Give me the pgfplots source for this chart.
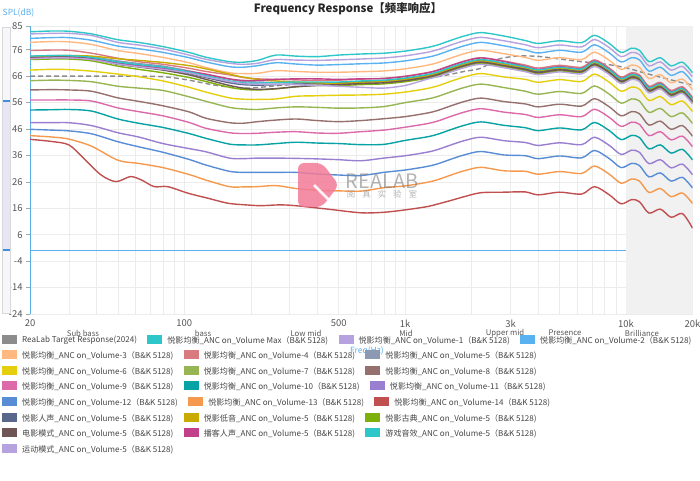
\documentclass[border=0pt]{standalone}
\usepackage{pgfplots}
\pgfplotsset{compat=1.18}
\usepackage{fontspec}
\setmainfont{Noto Sans CJK SC}
\definecolor{cT}{HTML}{8C8C8C}
\definecolor{c0}{HTML}{2EC7C9}
\definecolor{c1}{HTML}{B6A2DE}
\definecolor{c2}{HTML}{5AB1EF}
\definecolor{c3}{HTML}{FFB980}
\definecolor{c4}{HTML}{D87A80}
\definecolor{c5}{HTML}{8D98B3}
\definecolor{c6}{HTML}{E5CF0D}
\definecolor{c7}{HTML}{97B552}
\definecolor{c8}{HTML}{95706D}
\definecolor{c9}{HTML}{DC69AA}
\definecolor{c10}{HTML}{07A2A4}
\definecolor{c11}{HTML}{9A7FD1}
\definecolor{c12}{HTML}{588DD5}
\definecolor{c13}{HTML}{F5994E}
\definecolor{c14}{HTML}{C05050}
\definecolor{c15}{HTML}{59678C}
\definecolor{c16}{HTML}{C9AB00}
\definecolor{c17}{HTML}{7EB00A}
\definecolor{c18}{HTML}{6F5553}
\definecolor{c19}{HTML}{C14089}
\definecolor{axisblue}{HTML}{5AAEEA}
\definecolor{gridc}{HTML}{ECECEC}
\definecolor{bandc}{HTML}{F1F1F1}
\definecolor{labc}{HTML}{555555}
\definecolor{legtext}{HTML}{444444}
\definecolor{logopink}{HTML}{F27A98}
\definecolor{slbg}{HTML}{F7F7FB}
\definecolor{slsel}{HTML}{E8E5F5}
\definecolor{slhandle}{HTML}{3D8EE0}
\newcommand{\lf}{\fontsize{8.1}{9}\selectfont}
\newcommand{\sw}[1]{\textcolor{#1}{\rule[-1.2bp]{15bp}{9bp}}\hspace{5bp}}
\tikzset{le/.style={anchor=west, inner sep=0pt, font=\lf, text=legtext}}
\begin{document}
\begin{tikzpicture}
\useasboundingbox (0,0) rectangle (700bp,481bp);
\begin{axis}[
 at={(30bp,167bp)}, anchor=south west, scale only axis,
 width=662.5bp, height=288bp,
 xmode=log, xmin=20, xmax=20000, ymin=-24, ymax=85,
 axis lines*=left, axis line style={-},
 x axis line style={draw=none},
 y axis line style={draw=axisblue, line width=1bp},
 xtick={20,100,500,1000,3000,10000,20000},
 xticklabels={20,100,500,1k,3k,10k,20k},
 minor xtick={30,40,50,60,70,80,90,200,300,400,600,700,800,900,2000,4000,5000,6000,7000,8000,9000},
 ytick={-24,-14,-4,6,16,26,36,46,56,66,76,85},
 yticklabels={-24,-14,-4,6,16,26,36,46,56,66,76,85},
 xmajorgrids, xminorgrids, ymajorgrids,
 grid style={draw=gridc, line width=0.6bp},
 minor grid style={draw=gridc, line width=0.6bp},
 xtick style={draw=none}, minor tick style={draw=none},
 ytick style={draw=gray!70, line width=0.6bp},
 tick align=outside, major tick length=4bp, minor tick length=0pt,
 xticklabel style={font=\fontsize{9.5}{10}\selectfont, text=labc, yshift=2bp},
 yticklabel style={font=\fontsize{9.5}{10}\selectfont, text=labc},
 every axis plot/.append style={line width=1.4bp, smooth, tension=0.5},
]
\addplot[draw=none, fill=bandc, forget plot, sharp plot] coordinates {(10000,-24)(10000,85)(20000,85)(20000,-24)};
\addplot[axisblue, line width=1bp, sharp plot] coordinates {(20,0)(10000,0)};
% Target
\addplot[cT, dash pattern=on 5bp off 3bp] coordinates {(20,66.0)(40,66.0)(60,66.0)(80,65.8)(100,64.8)(140,62.5)(180,61.5)(220,61.8)(300,62.8)(500,63.5)(800,64.2)(1000,64.6)(1400,65.8)(1850,67.8)(2200,69.0)(2600,72.3)(3200,73.6)(4000,73.5)(5000,72.5)(6300,71.5)(8000,70.6)(10000,69.2)(12000,67.3)(15000,65.2)(18000,63.5)(20000,62.7)};
% Max
\addplot[c0] coordinates {(20,82.8)(25,83.1)(30,83.0)(38,82.0)(50,79.8)(62,78.8)(80,77.2)(105,75.0)(125,73.2)(160,71.5)(185,71.3)(215,72.0)(260,74.0)(320,73.6)(400,73.4)(500,74.0)(630,74.4)(800,74.7)(1000,75.5)(1250,76.8)(1400,77.8)(1600,79.5)(1850,81.2)(2200,82.5)(2800,81.2)(3500,79.5)(4000,78.4)(5000,79.4)(6300,78.7)(7200,81.5)(8400,78.4)(9500,75.0)(10600,76.6)(11500,75.8)(12700,71.5)(14300,73.0)(16000,69.9)(18000,71.3)(20000,67.3)};
% V1
\addplot[c1] coordinates {(20,82.0)(25,82.2)(30,82.2)(38,81.4)(50,78.8)(62,77.8)(80,76.3)(105,74.0)(125,72.4)(160,70.9)(185,70.5)(215,70.9)(260,72.3)(320,72.1)(400,72.0)(500,72.2)(630,72.5)(800,72.9)(1000,73.7)(1250,75.0)(1400,76.0)(1600,77.7)(1850,79.4)(2200,80.7)(2800,79.4)(3500,77.9)(4000,76.8)(5000,77.8)(6300,77.1)(7200,79.9)(8400,76.8)(9500,73.4)(10600,75.0)(11500,74.2)(12700,69.9)(14300,71.4)(16000,68.3)(18000,69.7)(20000,65.7)};
% V2
\addplot[c2] coordinates {(20,80.3)(25,80.6)(30,80.6)(38,79.6)(50,77.4)(62,76.4)(80,75.0)(105,73.0)(125,71.4)(160,69.6)(185,69.4)(215,70.0)(260,71.1)(320,70.6)(400,70.2)(500,70.4)(630,70.7)(800,71.0)(1000,71.8)(1250,73.1)(1400,74.1)(1600,75.8)(1850,77.5)(2200,78.8)(2800,77.5)(3500,75.9)(4000,74.8)(5000,75.8)(6300,75.1)(7200,77.9)(8400,74.8)(9500,71.4)(10600,73.0)(11500,72.2)(12700,67.9)(14300,69.4)(16000,66.3)(18000,67.7)(20000,63.7)};
% V3
\addplot[c3] coordinates {(20,78.8)(25,79.1)(30,79.0)(38,78.0)(50,75.7)(62,74.6)(80,73.1)(105,71.1)(125,69.3)(160,67.3)(185,67.0)(215,67.1)(260,68.1)(320,67.8)(400,67.5)(500,67.5)(630,67.7)(800,68.0)(1000,68.8)(1250,70.1)(1400,71.1)(1600,72.8)(1850,74.5)(2200,75.8)(2800,74.5)(3500,73.1)(4000,72.0)(5000,73.0)(6300,72.3)(7200,75.1)(8400,72.0)(9500,68.6)(10600,70.2)(11500,69.4)(12700,65.1)(14300,66.6)(16000,63.5)(18000,64.9)(20000,60.9)};
% V4
\addplot[c4] coordinates {(20,75.7)(25,75.9)(30,75.8)(38,74.7)(50,72.8)(62,71.5)(80,70.5)(105,69.0)(125,67.8)(160,66.5)(185,65.5)(215,65.0)(260,64.8)(320,64.6)(400,64.4)(500,64.5)(630,64.9)(800,65.2)(1000,66.0)(1250,67.3)(1400,68.3)(1600,70.0)(1850,71.7)(2200,73.0)(2800,71.7)(3500,70.2)(4000,69.1)(5000,70.1)(6300,69.4)(7200,72.2)(8400,69.1)(9500,65.7)(10600,67.3)(11500,66.5)(12700,62.2)(14300,63.7)(16000,60.6)(18000,62.0)(20000,58.0)};
% V5
\addplot[c5] coordinates {(20,73.5)(25,73.8)(30,73.8)(38,73.3)(50,71.8)(62,70.8)(80,69.8)(105,68.0)(125,66.6)(160,64.8)(185,64.0)(215,63.8)(260,63.6)(320,63.5)(400,63.3)(500,63.0)(630,63.4)(800,63.7)(1000,64.5)(1250,65.8)(1400,66.8)(1600,68.5)(1850,70.2)(2200,71.5)(2800,70.2)(3500,68.6)(4000,67.5)(5000,68.5)(6300,67.8)(7200,70.6)(8400,67.5)(9500,64.1)(10600,65.7)(11500,64.9)(12700,60.6)(14300,62.1)(16000,59.0)(18000,60.4)(20000,56.4)};
% V6
\addplot[c6] coordinates {(20,68.3)(25,68.6)(30,68.5)(38,67.9)(50,66.8)(62,65.8)(80,64.2)(105,61.8)(125,60.0)(160,57.8)(185,57.3)(215,57.2)(260,57.4)(320,58.4)(400,58.6)(500,58.8)(630,58.9)(800,59.2)(1000,60.0)(1250,61.3)(1400,62.3)(1600,64.0)(1850,65.7)(2200,67.0)(2800,65.7)(3500,64.8)(4000,63.7)(5000,64.7)(6300,64.0)(7200,66.8)(8400,63.7)(9500,60.3)(10600,61.9)(11500,61.1)(12700,56.8)(14300,58.3)(16000,55.2)(18000,56.6)(20000,52.6)};
% V7
\addplot[c7] coordinates {(20,64.3)(25,64.5)(30,64.4)(38,63.9)(50,62.2)(62,61.5)(80,60.6)(105,58.2)(125,56.5)(160,54.2)(185,53.6)(215,53.4)(260,54.0)(320,54.4)(400,54.2)(500,53.9)(630,54.0)(800,54.5)(1000,56.0)(1250,57.3)(1400,58.3)(1600,60.0)(1850,61.7)(2200,63.0)(2800,61.7)(3500,60.3)(4000,59.2)(5000,60.2)(6300,59.5)(7200,62.3)(8400,59.2)(9500,55.8)(10600,57.4)(11500,56.6)(12700,52.3)(14300,53.8)(16000,50.7)(18000,52.1)(20000,48.1)};
% V8
\addplot[c8] coordinates {(20,60.8)(25,60.9)(30,60.8)(38,60.3)(50,57.8)(62,56.5)(80,54.8)(105,52.5)(125,50.1)(160,48.4)(185,48.2)(215,48.8)(260,49.4)(320,49.8)(400,49.2)(500,48.8)(630,49.2)(800,49.9)(1000,50.7)(1250,52.0)(1400,53.0)(1600,54.7)(1850,56.4)(2200,57.7)(2800,56.4)(3500,55.5)(4000,54.4)(5000,55.4)(6300,54.7)(7200,57.5)(8400,54.4)(9500,51.0)(10600,52.6)(11500,51.8)(12700,47.5)(14300,49.0)(16000,45.9)(18000,47.3)(20000,43.3)};
% V9
\addplot[c9] coordinates {(20,57.0)(25,57.0)(30,57.0)(38,56.6)(50,54.0)(62,52.6)(80,51.0)(105,48.5)(125,46.3)(160,44.6)(185,44.3)(215,44.4)(260,44.8)(320,45.0)(400,44.5)(500,44.4)(630,45.0)(800,45.6)(1000,46.7)(1250,48.0)(1400,49.0)(1600,50.7)(1850,52.4)(2200,53.7)(2800,52.4)(3500,51.5)(4000,50.4)(5000,51.4)(6300,50.7)(7200,53.5)(8400,50.4)(9500,47.0)(10600,48.6)(11500,47.8)(12700,43.5)(14300,45.0)(16000,41.9)(18000,43.3)(20000,39.3)};
% V10
\addplot[c10] coordinates {(20,53.2)(25,53.3)(30,53.4)(38,52.8)(50,49.8)(62,48.2)(80,46.6)(105,44.3)(125,42.5)(160,40.3)(185,40.0)(215,40.0)(260,40.5)(320,41.0)(400,40.7)(500,40.5)(630,40.1)(800,40.2)(1000,41.7)(1250,43.0)(1400,44.0)(1600,45.7)(1850,47.4)(2200,48.7)(2800,47.4)(3500,46.5)(4000,45.4)(5000,46.4)(6300,45.7)(7200,48.5)(8400,45.4)(9500,42.0)(10600,43.6)(11500,42.8)(12700,38.5)(14300,40.0)(16000,36.9)(18000,38.3)(20000,34.3)};
% V11
\addplot[c11] coordinates {(20,48.4)(25,48.4)(30,48.4)(38,47.3)(50,44.6)(62,43.0)(80,40.5)(105,38.6)(125,37.4)(160,35.0)(185,34.8)(215,35.0)(260,35.0)(320,34.9)(400,34.7)(500,34.4)(630,34.0)(800,35.0)(1000,35.9)(1250,37.2)(1400,38.2)(1600,39.9)(1850,41.6)(2200,42.9)(2800,41.6)(3500,40.9)(4000,39.8)(5000,40.8)(6300,40.1)(7200,42.9)(8400,39.8)(9500,36.4)(10600,38.0)(11500,37.2)(12700,32.9)(14300,34.4)(16000,31.3)(18000,32.7)(20000,28.7)};
% V12
\addplot[c12] coordinates {(20,45.9)(25,45.6)(30,45.3)(38,44.2)(50,41.2)(62,39.3)(80,37.2)(105,34.5)(125,32.4)(160,30.0)(185,29.6)(215,29.6)(260,29.6)(320,29.6)(400,29.0)(500,28.6)(630,28.4)(800,29.6)(1000,30.5)(1250,31.8)(1400,32.8)(1600,34.5)(1850,36.2)(2200,37.5)(2800,36.2)(3500,35.9)(4000,34.8)(5000,35.8)(6300,35.1)(7200,37.9)(8400,34.8)(9500,31.4)(10600,33.0)(11500,32.2)(12700,27.9)(14300,29.4)(16000,26.3)(18000,27.7)(20000,23.7)};
% V13
\addplot[c13] coordinates {(20,43.5)(25,43.0)(30,42.2)(38,39.5)(50,34.2)(62,33.0)(80,31.4)(105,28.8)(125,26.7)(160,24.2)(185,24.1)(215,24.2)(260,24.6)(320,23.5)(400,22.8)(500,22.6)(630,22.5)(800,23.8)(1000,24.5)(1250,25.8)(1400,26.8)(1600,28.5)(1850,30.2)(2200,31.5)(2800,30.2)(3500,30.0)(4000,28.9)(5000,29.9)(6300,29.2)(7200,32.0)(8400,28.9)(9500,25.5)(10600,27.1)(11500,26.3)(12700,22.0)(14300,23.5)(16000,20.4)(18000,21.8)(20000,17.8)};
% V14
\addplot[c14] coordinates {(20,42.1)(25,41.3)(30,40.0)(35,34.9)(42,28.6)(49,26.1)(57,28.0)(64,26.7)(73,24.2)(84,24.2)(104,21.7)(128,19.8)(158,17.9)(190,17.3)(222,17.0)(270,17.3)(318,17.0)(445,15.7)(630,14.3)(800,14.5)(1000,15.4)(1250,16.6)(1400,17.6)(1600,18.9)(1850,20.4)(2200,21.9)(2800,22.1)(3500,22.2)(4000,21.1)(5000,22.1)(6300,21.4)(7200,24.2)(8400,21.1)(9500,17.7)(10600,19.3)(11500,18.5)(12700,14.2)(14300,15.7)(16000,12.6)(18000,14.0)(20000,8.5)};
% 人声
\addplot[c15] coordinates {(20,73.0)(25,73.3)(30,73.3)(38,72.7)(50,71.0)(62,70.0)(80,68.8)(105,67.0)(125,65.5)(160,63.5)(185,62.8)(215,62.6)(260,62.8)(320,63.0)(400,63.2)(500,63.5)(630,63.9)(800,64.3)(1000,65.1)(1250,66.4)(1400,67.4)(1600,69.1)(1850,70.8)(2200,72.1)(2800,70.8)(3500,68.9)(4000,67.8)(5000,68.8)(6300,68.1)(7200,70.9)(8400,67.8)(9500,64.4)(10600,66.0)(11500,65.2)(12700,60.9)(14300,62.4)(16000,59.3)(18000,60.7)(20000,56.7)};
% 低音
\addplot[c16] coordinates {(20,73.3)(25,73.7)(30,73.8)(38,73.6)(50,72.6)(62,72.0)(80,71.2)(105,70.0)(125,68.8)(160,66.8)(185,65.6)(215,64.8)(260,64.2)(320,63.8)(400,63.5)(500,63.3)(630,63.7)(800,64.0)(1000,64.8)(1250,66.1)(1400,67.1)(1600,68.8)(1850,70.5)(2200,71.8)(2800,70.5)(3500,69.2)(4000,68.1)(5000,69.1)(6300,68.4)(7200,71.2)(8400,68.1)(9500,64.7)(10600,66.3)(11500,65.5)(12700,61.2)(14300,62.7)(16000,59.6)(18000,61.0)(20000,57.0)};
% 古典
\addplot[c17] coordinates {(20,72.3)(25,72.5)(30,72.5)(38,71.8)(50,69.8)(62,68.6)(80,67.3)(105,65.5)(125,64.0)(160,61.8)(185,61.0)(215,60.8)(260,61.2)(320,62.0)(400,62.5)(500,62.5)(630,62.8)(800,63.1)(1000,63.9)(1250,65.2)(1400,66.2)(1600,67.9)(1850,69.6)(2200,70.9)(2800,69.6)(3500,68.1)(4000,67.0)(5000,68.0)(6300,67.3)(7200,70.1)(8400,67.0)(9500,63.6)(10600,65.2)(11500,64.4)(12700,60.1)(14300,61.6)(16000,58.5)(18000,59.9)(20000,55.9)};
% 电影
\addplot[c18] coordinates {(20,73.0)(25,73.2)(30,73.2)(38,72.6)(50,70.5)(62,69.5)(80,68.3)(105,66.5)(125,64.8)(160,62.5)(185,61.5)(215,61.0)(260,61.3)(320,62.0)(400,62.5)(500,62.8)(630,63.2)(800,63.5)(1000,64.3)(1250,65.6)(1400,66.6)(1600,68.3)(1850,70.0)(2200,71.3)(2800,70.0)(3500,68.5)(4000,67.4)(5000,68.4)(6300,67.7)(7200,70.5)(8400,67.4)(9500,64.0)(10600,65.6)(11500,64.8)(12700,60.5)(14300,62.0)(16000,58.9)(18000,60.3)(20000,56.3)};
% 播客
\addplot[c19] coordinates {(20,72.8)(25,73.0)(30,73.0)(38,72.4)(50,70.8)(62,70.0)(80,69.0)(105,67.8)(125,66.8)(160,65.0)(185,64.4)(215,64.4)(260,64.8)(320,65.0)(400,65.0)(500,64.8)(630,65.0)(800,65.1)(1000,65.9)(1250,67.2)(1400,68.2)(1600,69.9)(1850,71.6)(2200,72.9)(2800,71.6)(3500,69.7)(4000,68.6)(5000,69.6)(6300,68.9)(7200,71.7)(8400,68.6)(9500,65.2)(10600,66.8)(11500,66.0)(12700,61.7)(14300,63.2)(16000,60.1)(18000,61.5)(20000,57.5)};
% 游戏
\addplot[c0] coordinates {(20,73.6)(25,73.8)(30,73.8)(38,73.1)(50,71.4)(62,70.4)(80,69.4)(105,67.6)(125,66.2)(160,64.2)(185,63.5)(215,63.4)(260,63.6)(320,63.8)(400,63.8)(500,63.8)(630,64.2)(800,64.5)(1000,65.3)(1250,66.6)(1400,67.6)(1600,69.3)(1850,71.0)(2200,72.3)(2800,71.0)(3500,69.5)(4000,68.4)(5000,69.4)(6300,68.7)(7200,71.5)(8400,68.4)(9500,65.0)(10600,66.6)(11500,65.8)(12700,61.5)(14300,63.0)(16000,59.9)(18000,61.3)(20000,57.3)};
% 运动
\addplot[c1] coordinates {(20,72.6)(25,72.9)(30,72.9)(38,72.3)(50,70.6)(62,69.6)(80,68.6)(105,67.2)(125,65.8)(160,64.0)(185,63.2)(215,63.0)(260,63.0)(320,62.8)(400,62.5)(500,62.2)(630,61.8)(800,61.5)(1000,62.5)(1250,64.8)(1400,65.8)(1600,67.5)(1850,69.2)(2200,70.5)(2800,69.2)(3500,67.7)(4000,66.6)(5000,67.6)(6300,66.9)(7200,69.7)(8400,66.6)(9500,63.2)(10600,64.8)(11500,64.0)(12700,59.7)(14300,61.2)(16000,58.1)(18000,59.5)(20000,55.5)};
\end{axis}
\begin{scope}[x=1bp,y=1bp]
% slider
\fill[slbg] (2,168) rectangle (10,454);
\fill[slsel] (2,231) rectangle (10,380);
\draw[draw=gray!30, line width=0.5bp] (2,168) rectangle (10,454);
\draw[slhandle, line width=2bp] (3,380) -- (10,380);
\draw[slhandle, line width=2bp] (3,231) -- (10,231);
% titles
\node[font=\bfseries\fontsize{11.5}{12}\selectfont, text=black!85] at (348,472) {Frequency Response【频率响应】};
\node[font=\fontsize{8.5}{9}\selectfont, text=axisblue] at (18.5,468) {SPL(dB)};
% watermark
\fill[logopink, opacity=0.85, rounded corners=6bp] (298,318) -- (322,318) -- (339,296) -- (322,274) -- (298,274) -- cycle;
\draw[white, line width=2.5bp, opacity=0.9] (314,296) -- (330,280);
\node[font=\fontsize{20}{20}\selectfont, text=gray, opacity=0.6] at (382,300) {REALAB};
\node[font=\fontsize{8.5}{9}\selectfont, text=gray, opacity=0.6] at (382,287) {阅\hspace{7bp}真\hspace{7bp}实\hspace{7bp}验\hspace{7bp}室};
% band labels
\foreach \xx/\tt in {83/Sub bass,203/bass,306/Low mid,406/Mid,505/Upper mid,565/Presence,642/Brilliance}
  \node[font=\fontsize{7.8}{8}\selectfont, text=labc] at (\xx,148) {\tt};
\node[font=\fontsize{8.5}{9}\selectfont, text=axisblue] at (367,130) {Freq(Hz)};
% legend
\node[le] (a1) at (2,141) {\sw{cT}ReaLab Target Response(2024)};
\node[le] (a2) at ([xshift=10bp]a1.east) {\sw{c0}悦影均衡\_ANC on\_Volume Max（B\&K 5128)};
\node[le] (a3) at ([xshift=10bp]a2.east) {\sw{c1}悦影均衡\_ANC on\_Volume-1（B\&K 5128)};
\node[le] (a4) at ([xshift=10bp]a3.east) {\sw{c2}悦影均衡\_ANC on\_Volume-2（B\&K 5128)};
\node[le] (b1) at (2,126) {\sw{c3}悦影均衡\_ANC on\_Volume-3（B\&K 5128)};
\node[le] (b2) at ([xshift=10bp]b1.east) {\sw{c4}悦影均衡\_ANC on\_Volume-4（B\&K 5128)};
\node[le] (b3) at ([xshift=10bp]b2.east) {\sw{c5}悦影均衡\_ANC on\_Volume-5（B\&K 5128)};
\node[le] (c1) at (2,110) {\sw{c6}悦影均衡\_ANC on\_Volume-6（B\&K 5128)};
\node[le] (c2) at ([xshift=10bp]c1.east) {\sw{c7}悦影均衡\_ANC on\_Volume-7（B\&K 5128)};
\node[le] (c3) at ([xshift=10bp]c2.east) {\sw{c8}悦影均衡\_ANC on\_Volume-8（B\&K 5128)};
\node[le] (d1) at (2,95) {\sw{c9}悦影均衡\_ANC on\_Volume-9（B\&K 5128)};
\node[le] (d2) at ([xshift=10bp]d1.east) {\sw{c10}悦影均衡\_ANC on\_Volume-10（B\&K 5128)};
\node[le] (d3) at ([xshift=10bp]d2.east) {\sw{c11}悦影均衡\_ANC on\_Volume-11（B\&K 5128)};
\node[le] (e1) at (2,79) {\sw{c12}悦影均衡\_ANC on\_Volume-12（B\&K 5128)};
\node[le] (e2) at ([xshift=10bp]e1.east) {\sw{c13}悦影均衡\_ANC on\_Volume-13（B\&K 5128)};
\node[le] (e3) at ([xshift=10bp]e2.east) {\sw{c14}悦影均衡\_ANC on\_Volume-14（B\&K 5128)};
\node[le] (f1) at (2,63) {\sw{c15}悦影人声\_ANC on\_Volume-5（B\&K 5128)};
\node[le] (f2) at ([xshift=10bp]f1.east) {\sw{c16}悦影低音\_ANC on\_Volume-5（B\&K 5128)};
\node[le] (f3) at ([xshift=10bp]f2.east) {\sw{c17}悦影古典\_ANC on\_Volume-5（B\&K 5128)};
\node[le] (g1) at (2,48) {\sw{c18}电影模式\_ANC on\_Volume-5（B\&K 5128)};
\node[le] (g2) at ([xshift=10bp]g1.east) {\sw{c19}播客人声\_ANC on\_Volume-5（B\&K 5128)};
\node[le] (g3) at ([xshift=10bp]g2.east) {\sw{c0}游戏音效\_ANC on\_Volume-5（B\&K 5128)};
\node[le] (h1) at (2,32) {\sw{c1}运动模式\_ANC on\_Volume-5（B\&K 5128)};
\end{scope}
\end{tikzpicture}
\end{document}
